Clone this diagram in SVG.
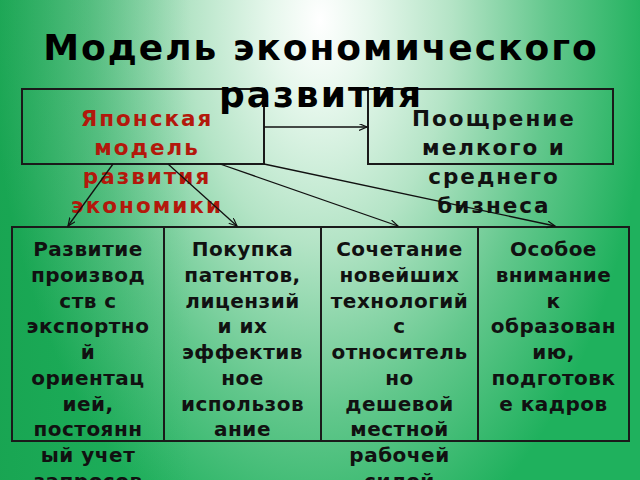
<svg xmlns="http://www.w3.org/2000/svg" width="640" height="480" viewBox="0 0 640 480">
<defs>
<radialGradient id="bg" gradientUnits="userSpaceOnUse" cx="0" cy="0" r="1" gradientTransform="translate(320,20) scale(330,560)">
<stop offset="0" stop-color="#ffffff"/>
<stop offset="0.15" stop-color="#e6f7ec"/>
<stop offset="0.4" stop-color="#b4e4c6"/>
<stop offset="0.7" stop-color="#62c78c"/>
<stop offset="1" stop-color="#1fb15d"/>
</radialGradient>
<linearGradient id="shade" x1="0" y1="0" x2="1" y2="0">
<stop offset="0" stop-color="#0a8a3a" stop-opacity="0.3"/>
<stop offset="0.3" stop-color="#0a8a3a" stop-opacity="0"/>
<stop offset="1" stop-color="#0a8a3a" stop-opacity="0"/>
</linearGradient>
<marker id="arr" markerWidth="10" markerHeight="8" refX="8" refY="3.5" orient="auto" markerUnits="userSpaceOnUse">
<path d="M0,0 L8,3.5 L0,7" fill="none" stroke="#111" stroke-width="1.2"/>
</marker>
<style>
.box{fill:none;stroke:#1a1a1a;stroke-width:2}
.t{font-family:"DejaVu Sans","Noto Sans",sans-serif;font-weight:bold;text-anchor:middle}
.top{font-size:21.5px;letter-spacing:2px}
.red{fill:#b3180c}
.blk{fill:#111}
.cell{font-size:20px;letter-spacing:0.5px;fill:#111}
.title{font-size:36px;fill:#000;letter-spacing:2px}
.con{stroke:#111;stroke-width:1.3;fill:none;marker-end:url(#arr)}
</style>
</defs>
<rect x="0" y="0" width="640" height="480" fill="url(#bg)"/>
<rect x="0" y="0" width="640" height="480" fill="url(#shade)"/>

<g id="japan">
<rect class="box" x="22" y="89" width="242" height="75"/>
<text class="t top red" x="147" y="125.5">Японская</text>
<text class="t top red" x="147" y="155">модель</text>
<text class="t top red" x="147" y="184">развития</text>
<text class="t top red" x="147" y="213">экономики</text>
</g>
<g id="small-business">
<rect class="box" x="368" y="89" width="245" height="75"/>
<text class="t top blk" x="494" y="125.5">Поощрение</text>
<text class="t top blk" x="494" y="155">мелкого и</text>
<text class="t top blk" x="494" y="184">среднего</text>
<text class="t top blk" x="494" y="213">бизнеса</text>
</g>
<g id="export">
<rect class="box" x="12" y="227" width="152" height="214"/>
<text class="t cell" x="88"><tspan x="88" y="256">Развитие</tspan><tspan x="88" y="281.75">производ</tspan><tspan x="88" y="307.5">ств с</tspan><tspan x="88" y="333.25">экспортно</tspan><tspan x="88" y="359">й</tspan><tspan x="88" y="384.75">ориентац</tspan><tspan x="88" y="410.5">ией,</tspan><tspan x="88" y="436.25">постоянн</tspan><tspan x="88" y="462">ый учет</tspan><tspan x="88" y="487.75">запросов</tspan></text>
</g>
<g id="patents">
<rect class="box" x="164" y="227" width="157" height="214"/>
<text class="t cell" x="242.5"><tspan x="242.5" y="256">Покупка</tspan><tspan x="242.5" y="281.75">патентов,</tspan><tspan x="242.5" y="307.5">лицензий</tspan><tspan x="242.5" y="333.25">и их</tspan><tspan x="242.5" y="359">эффектив</tspan><tspan x="242.5" y="384.75">ное</tspan><tspan x="242.5" y="410.5">использов</tspan><tspan x="242.5" y="436.25">ание</tspan></text>
</g>
<g id="technology">
<rect class="box" x="321" y="227" width="157" height="214"/>
<text class="t cell" x="399.5"><tspan x="399.5" y="256">Сочетание</tspan><tspan x="399.5" y="281.75">новейших</tspan><tspan x="399.5" y="307.5">технологий</tspan><tspan x="399.5" y="333.25">с</tspan><tspan x="399.5" y="359">относитель</tspan><tspan x="399.5" y="384.75">но</tspan><tspan x="399.5" y="410.5">дешевой</tspan><tspan x="399.5" y="436.25">местной</tspan><tspan x="399.5" y="462">рабочей</tspan><tspan x="399.5" y="487.75">силой</tspan></text>
</g>
<g id="education">
<rect class="box" x="478" y="227" width="151" height="214"/>
<text class="t cell" x="553.5"><tspan x="553.5" y="256">Особое</tspan><tspan x="553.5" y="281.75">внимание</tspan><tspan x="553.5" y="307.5">к</tspan><tspan x="553.5" y="333.25">образован</tspan><tspan x="553.5" y="359">ию,</tspan><tspan x="553.5" y="384.75">подготовк</tspan><tspan x="553.5" y="410.5">е кадров</tspan></text>
</g>

<g id="connectors">
<line class="con" x1="264" y1="127" x2="367" y2="127"/>
<line class="con" x1="113" y1="164" x2="68" y2="226"/>
<line class="con" x1="168" y1="164" x2="237" y2="226"/>
<line class="con" x1="220" y1="164" x2="398" y2="226"/>
<line class="con" x1="264" y1="164" x2="555" y2="226"/>
</g>

<g id="title">
<text class="t title" x="321" y="59.5">Модель экономического</text>
<text class="t title" x="321" y="107">развития</text>
</g>
</svg>
